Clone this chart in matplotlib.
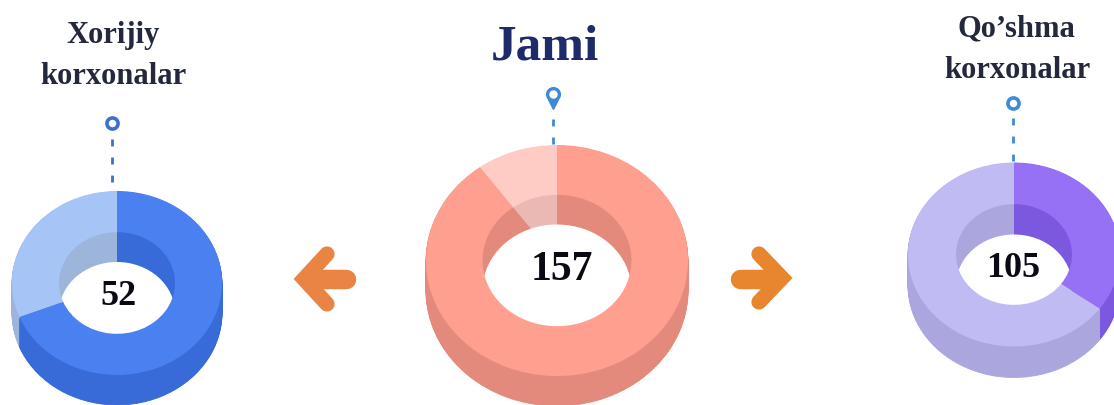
import matplotlib
matplotlib.use("Agg")
import matplotlib.pyplot as plt
from matplotlib.patches import Wedge, Ellipse
from matplotlib.transforms import Affine2D

# slice shares, clockwise from 12 o'clock
jami_shares = [90, 10]
xorijiy_shares = [69, 31]
qoshma_shares = [35, 65]

totals = ["157", "52", "105"]
title_jami = "Jami"
title_xorijiy = ["Xorijiy", "korxonalar"]
title_qoshma = ["Qo\u2019shma", "korxonalar"]

plt.rcParams['font.family'] = ['Liberation Serif', 'DejaVu Serif']

fig = plt.figure(figsize=(11.14, 4.06), dpi=100)
ax = fig.add_axes([0, 0, 1, 1])
ax.set_xlim(0, 1114)
ax.set_ylim(406, 0)
ax.axis("off")


def donut(cx, cy, rx, ry, hole_rx, hole_ry, depth, shares, top_cols, wall_cols):
    total = sum(shares)
    angles = []
    end = 90
    for s in shares:
        start = end - 360 * s / total
        angles.append((start, end))
        end = start

    # ellipses are wedges squashed in y
    def tf(ratio, dy=0):
        return Affine2D().scale(1, -ratio).translate(cx, cy + dy) + ax.transData

    # outer wall
    for dy in range(depth, 0, -1):
        for (a, b), c in zip(angles, wall_cols):
            ax.add_patch(Wedge((0, 0), rx, a, b, fc=c, lw=0.6, ec=c, transform=tf(ry / rx, dy), zorder=1))
    # inner wall seen through the hole
    for (a, b), c in zip(angles, wall_cols):
        ax.add_patch(Wedge((0, 0), hole_rx, a, b, fc=c, lw=0, transform=tf(hole_ry / hole_rx), zorder=2))
    ax.add_patch(Ellipse((cx, cy + depth), hole_rx * 2, hole_ry * 2, fc="white", lw=0, zorder=3))
    # top face
    for (a, b), c in zip(angles, top_cols):
        ax.add_patch(Wedge((0, 0), rx, a, b, width=rx - hole_rx, fc=c, lw=0,
                           transform=tf(ry / rx), zorder=4))


donut(117, 284, 105, 92, 58, 51, 30, xorijiy_shares,
      ["#4A80F0", "#A6C4F6"], ["#386AD8", "#9DB5DA"])
donut(557, 261.5, 131, 115.5, 74.5, 66, 30, jami_shares,
      ["#FF9F90", "#FFCBC5"], ["#E38A7C", "#EBB9B3"])
donut(1014, 255.5, 106, 92, 58, 51, 31, qoshma_shares,
      ["#9670F5", "#C0BBF3"], ["#7B58DE", "#ABA7DE"])

# numbers in the holes
ax.text(119, 297, totals[1], fontsize=26, fontweight="bold", color="#0A0A14", ha="center", va="center", zorder=6)
ax.text(562, 270, totals[0], fontsize=30, fontweight="bold", color="#0A0A14", ha="center", va="center", zorder=6)
ax.text(1013, 269, totals[2], fontsize=26, fontweight="bold", color="#0A0A14", ha="center", va="center", zorder=6)

# titles
ax.text(545, 47, title_jami, fontsize=37, fontweight="bold", color="#1F2A6B", ha="center", va="center")
ax.text(113, 36, title_xorijiy[0], fontsize=22, fontweight="bold", color="#24283C", ha="center", va="center")
ax.text(113, 77, title_xorijiy[1], fontsize=22, fontweight="bold", color="#24283C", ha="center", va="center")
ax.text(1016, 29, title_qoshma[0], fontsize=22, fontweight="bold", color="#24283C", ha="center", va="center")
ax.text(1017, 70, title_qoshma[1], fontsize=22, fontweight="bold", color="#24283C", ha="center", va="center")

# dashed stems with their rings
ax.plot([112, 112], [140, 186], color="#3F6FCC", lw=2, ls=(0, (2.5, 4)), zorder=5)
ax.plot([112], [124], "o", ms=8, mfc="white", mec="#3F6FCC", mew=2.6, zorder=5)
ax.plot([553, 553], [120, 146], color="#3F8AD6", lw=2, ls=(0, (2.5, 4)), zorder=5)
ax.plot([553], [105], "v", ms=7, color="#3F8AD6", zorder=4)
ax.plot([553], [95], "o", ms=8.5, mfc="white", mec="#3F8AD6", mew=2.4, zorder=5)
ax.plot([1013, 1013], [119, 164], color="#3F8AD6", lw=2, ls=(0, (2.5, 4)), zorder=5)
ax.plot([1013], [104], "o", ms=8, mfc="white", mec="#3F8AD6", mew=2.6, zorder=5)

# arrows
ax.plot([346, 310], [280, 280], color="#EA8444", lw=14, solid_capstyle="round")
ax.plot([327, 304, 327], [255, 280, 305], color="#EA8444", lw=11,
        solid_capstyle="round", solid_joinstyle="miter")
ax.plot([740, 775], [280, 280], color="#E8852F", lw=14, solid_capstyle="round")
ax.plot([759, 782, 759], [255, 279, 303], color="#E8852F", lw=11,
        solid_capstyle="round", solid_joinstyle="miter")

fig.savefig("out.png", dpi=100, facecolor="white")
